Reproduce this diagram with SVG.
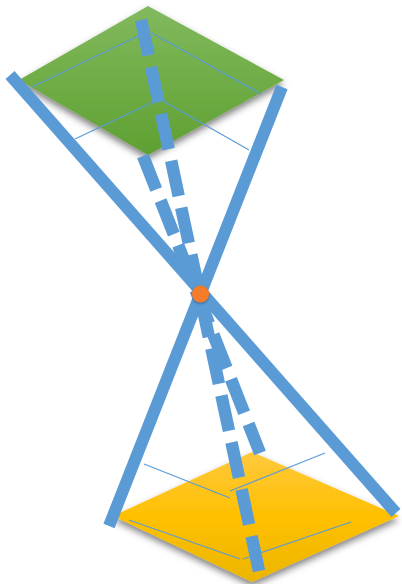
<svg xmlns="http://www.w3.org/2000/svg" width="402" height="584" viewBox="0 0 402 584">
<defs>
<linearGradient id="g" x1="0" y1="0" x2="0" y2="1"><stop offset="0" stop-color="#82B95E"/><stop offset=".5" stop-color="#70AD47"/><stop offset="1" stop-color="#5FA032"/></linearGradient>
<linearGradient id="y" x1="0" y1="0" x2="0" y2="1"><stop offset="0" stop-color="#FFC93F"/><stop offset=".5" stop-color="#FFC000"/><stop offset="1" stop-color="#EBB500"/></linearGradient>
<filter id="s" x="-20%" y="-20%" width="140%" height="150%"><feDropShadow dx="0" dy="4" stdDeviation="3.500" flood-color="#000" flood-opacity=".5"/></filter>
<filter id="c" x="-50%" y="-50%" width="200%" height="200%"><feDropShadow dx="0" dy="1" stdDeviation="1.500" flood-color="#000" flood-opacity=".4"/></filter>
</defs>
<style>
.t{fill:none;stroke:#5B9BD5;stroke-width:1.2}
.k{fill:none;stroke:#5B9BD5;stroke-width:12}
.d{fill:none;stroke:#5B9BD5;stroke-width:12.500;stroke-dasharray:36 12}
</style>
<rect width="402" height="584" fill="#fff"/>
<g id="plane-top"><polygon points="148,6 284,80 148,155 19,80" fill="url(#g)" filter="url(#s)"/></g>
<g id="plane-bottom"><polygon points="252,452 399,516 252,582 113,516" fill="url(#y)" filter="url(#s)"/></g>
<g id="connectors">
<path class="t" d="M32 87 138 36M152 33 261 94M75 139 153 102M163 101 249 150"/>
<path class="t" d="M144 464 230 498M230 491 325 453M129 520 240 559M243 559 351 522"/>
<path class="k" d="M10 75 396 513"/>
<path class="k" d="M282 87 109 526"/>
<path class="d" d="M141 20 259 571"/>
<path class="d" d="M143 156 260 453"/>
</g>
<g id="focal-point"><circle cx="200.500" cy="294" r="8.500" fill="#F57C2B" filter="url(#c)"/></g>
</svg>
